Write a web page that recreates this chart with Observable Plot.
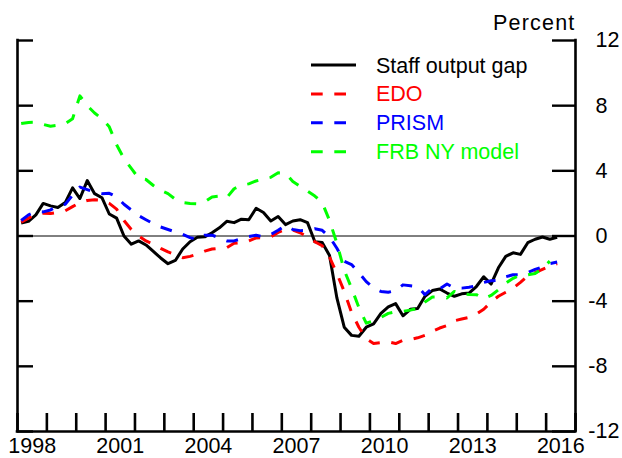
<!DOCTYPE html>
<html>
<head>
<meta charset="utf-8">
<script src="https://cdn.jsdelivr.net/npm/d3@7"></script>
<script src="https://cdn.jsdelivr.net/npm/@observablehq/plot@0.6"></script>
<style>
  html, body { margin: 0; padding: 0; background: #fff; }
  svg { display: block; }
</style>
</head>
<body>
<div id="chart"></div>
<script>
// Quarterly data, first value = 1998Q1 (plotted at mid-quarter)
const firstYear = 1998;
const staffGap = [0.8, 0.9, 1.3, 2.0, 1.85, 1.75, 2.05, 2.95, 2.3, 3.4,
  2.6, 2.35, 1.35, 1.1, 0.0, -0.5, -0.3, -0.55, -0.95, -1.35,
  -1.7, -1.5, -0.8, -0.35, -0.08, -0.05, 0.2, 0.5, 0.9, 0.82,
  1.03, 1.0, 1.7, 1.44, 0.92, 1.2, 0.7, 0.92, 1.0, 0.82,
  -0.35, -0.4, -1.2, -3.8, -5.6, -6.1, -6.15, -5.6, -5.4, -4.75,
  -4.35, -4.15, -4.9, -4.5, -4.45, -3.7, -3.35, -3.25, -3.5, -3.7,
  -3.55, -3.5, -3.1, -2.5, -2.95, -1.95, -1.25, -1.03, -1.13, -0.41,
  -0.2, -0.06, -0.2, -0.08];
const edo = [0.85, 1.1, 1.35, 1.4, 1.38, 1.45, 1.55, 1.8, 2.05, 2.18,
  2.22, 2.2, 2.0, 1.65, 0.95, 0.4, 0.0, -0.3, -0.51, -0.76,
  -0.98, -1.15, -1.33, -1.25, -1.12, -0.93, -0.8, -0.75, -0.72, -0.45,
  -0.41, -0.3, -0.12, -0.1, -0.05, 0.22, 0.42, 0.37, 0.2, -0.05,
  -0.35, -0.6, -1.3, -2.3, -3.4, -4.7, -5.6, -6.3, -6.6, -6.55,
  -6.5, -6.6, -6.4, -6.36, -6.25, -6.1, -5.85, -5.65, -5.5, -5.2,
  -5.1, -5.0, -4.8, -4.5, -4.05, -3.7, -3.45, -3.2, -2.85, -2.45,
  -2.25, -2.05, -1.85, -1.7];
const prism = [0.95, 1.3, 1.5, 1.48, 1.6, 1.85, 1.95, 2.5, 3.0, 2.85,
  2.68, 2.6, 2.62, 2.4, 1.95, 1.6, 1.25, 1.0, 0.75, 0.55,
  0.4, 0.25, 0.1, -0.1, -0.2, 0.05, 0.05, -0.12, -0.3, -0.3,
  -0.17, -0.03, 0.05, -0.05, 0.1, 0.35, 0.65, 0.4, 0.33, 0.35,
  0.45, 0.35, -0.05, -0.75, -1.55, -1.75, -2.25, -2.8, -3.2, -3.4,
  -3.45, -3.35, -3.0, -3.05, -3.1, -3.6, -3.2, -3.25, -2.95, -3.2,
  -3.2, -3.15, -3.05, -2.85, -2.75, -2.73, -2.5, -2.38, -2.38, -2.25,
  -2.05, -1.9, -1.7, -1.6];
const frbny = [6.9, 6.97, 6.98, 6.85, 6.74, 6.8, 6.9, 7.2, 8.6, 8.0,
  7.55, 7.2, 6.7, 5.6, 4.75, 4.15, 3.55, 3.47, 3.1, 2.8,
  2.6, 2.25, 2.05, 2.0, 1.98, 2.1, 2.4, 2.45, 2.35, 2.9,
  3.12, 3.2, 3.38, 3.5, 3.6, 3.88, 3.85, 3.35, 3.05, 2.75,
  2.45, 2.05, 0.95, -0.45, -2.1, -3.2, -4.4, -5.35, -5.2, -5.0,
  -4.75, -4.65, -4.62, -4.55, -4.45, -4.05, -3.75, -3.75, -3.8, -3.4,
  -3.55, -3.59, -3.6, -3.85, -3.65, -3.3, -2.9, -2.6, -2.4, -2.38,
  -2.3, -2.0, -1.54];

const seriesNames = ["Staff output gap", "EDO", "PRISM", "FRB NY model"];
const seriesValues = [staffGap, edo, prism, frbny];
const seriesColors = ["#000000", "#ff0000", "#0000ff", "#00ff00"];
const seriesDashed = [false, true, true, true];

const yTicks = [-12, -8, -4, 0, 4, 8, 12];
const yearTicks = d3.range(1998, 2018);
const yearLabels = [1998, 2001, 2004, 2007, 2010, 2013, 2016];
const unitLabel = "Percent";

// Build tables
const tables = seriesValues.map((vals, s) =>
  vals.map((v, i) => ({t: firstYear + (i + 0.5) / 4, v, s: seriesNames[s]})));

const W = 622, H = 458;
const mL = 17, mR = 47, mT = 40, mB = 27;
const fw = W - mL - mR, fh = H - mT - mB;
const FONT = "'Liberation Sans', Arial, Helvetica, sans-serif";

const lineMarks = [0, 1, 2, 3].map(i => Plot.line(tables[i], {
  x: "t", y: "v",
  stroke: seriesColors[i],
  strokeWidth: 3,
  strokeDasharray: seriesDashed[i] ? "11.7,11.6" : null,
  strokeLinejoin: "round",
  strokeLinecap: "butt"
}));

const chart = Plot.plot({
  width: W, height: H,
  marginLeft: mL, marginRight: mR, marginTop: mT, marginBottom: mB,
  style: {fontFamily: FONT, fontSize: "21.5px", background: "#fff", overflow: "visible"},
  x: {domain: [1998, 2017], axis: null},
  y: {domain: [-12, 12], axis: null},
  marks: [
    Plot.ruleY([0], {stroke: "#000", strokeWidth: 1}),
    ...lineMarks,
    // axis lines
    Plot.ruleX([1998, 2017], {stroke: "#000", strokeWidth: 2.6, strokeLinecap: "square"}),
    Plot.ruleY([-12], {stroke: "#000", strokeWidth: 2.6, strokeLinecap: "square"}),
    // inward ticks
    Plot.ruleY(yTicks, {stroke: "#000", strokeWidth: 2.4, insetRight: fw - 16}),
    Plot.ruleY(yTicks, {stroke: "#000", strokeWidth: 2.4, insetLeft: fw - 23}),
    Plot.ruleX(yearTicks, {stroke: "#000", strokeWidth: 2.6, insetTop: fh - 18}),
    // tick labels
    Plot.axisY(yTicks, {anchor: "right", tickSize: 0, tickPadding: 20, label: null,
      tickFormat: d => String(Math.abs(d)), fontSize: 21.5}),
    Plot.text(yTicks.filter(d => d < 0), {y: d => d, text: () => "-", frameAnchor: "right",
      textAnchor: "end", dx: 20, fontSize: 21.5}),
    Plot.axisX(yearLabels.map(y => y + 0.5), {anchor: "bottom", tickSize: 0, tickPadding: 6.5,
      label: null, tickFormat: d => String(Math.floor(d)), fontSize: 21.5}),
    Plot.text([unitLabel], {frameAnchor: "top-right", textAnchor: "end", lineAnchor: "bottom",
      dy: -10.7, fontSize: 21.5})
  ]
});

// letter spacing for the unit label
d3.select(chart).selectAll("text").filter(function () { return this.textContent === unitLabel; })
  .attr("letter-spacing", "1.2px");

// Legend inside the plot area
const lg = d3.select(chart).append("g")
  .attr("font-family", FONT).attr("font-size", "21.5px").attr("text-anchor", "start");
seriesNames.forEach((name, i) => {
  const y = 65 + i * 28.9;
  lg.append("line")
    .attr("x1", 311).attr("x2", seriesDashed[i] ? 346.5 : 356)
    .attr("y1", y).attr("y2", y)
    .attr("stroke", seriesColors[i]).attr("stroke-width", 3)
    .attr("stroke-dasharray", seriesDashed[i] ? "11.7,11.6" : null);
  lg.append("text").attr("x", 376).attr("y", y).attr("dy", "0.35em")
    .attr("text-anchor", "start")
    .attr("fill", seriesColors[i]).text(name);
});

document.getElementById("chart").appendChild(chart);
</script>
</body>
</html>
